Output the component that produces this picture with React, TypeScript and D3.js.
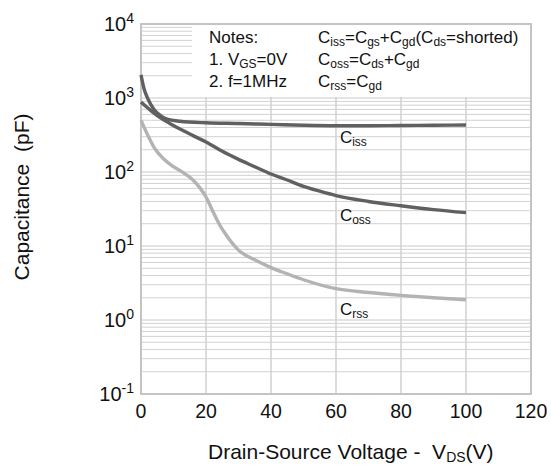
import React from "react";
import * as d3 from "d3";

const xTicks = [0, 20, 40, 60, 80, 100, 120];
const yExps = [-1, 0, 1, 2, 3, 4];

const cissData: [number, number][] = [
  [0, 2050], [1, 1300], [2, 1000], [4, 700], [6, 580], [8, 520], [12, 485],
  [20, 462], [30, 452], [40, 440], [50, 428], [60, 422], [70, 422], [80, 425],
  [90, 428], [100, 432],
];
const cossData: [number, number][] = [
  [0, 880], [2, 740], [4, 625], [6, 540], [9, 450], [12, 380], [16, 310],
  [20, 255], [25, 190], [30, 148], [35, 118], [40, 94], [45, 78], [50, 64],
  [55, 55], [60, 48], [70, 40], [80, 35], [90, 31], [100, 28.2],
];
const crssData: [number, number][] = [
  [0, 500], [2, 320], [4, 215], [7, 150], [10, 118], [13, 98], [16, 78],
  [18, 62], [20, 46], [22, 30], [24, 20], [26, 14.5], [28, 11], [30, 8.8],
  [35, 6.5], [40, 5.1], [45, 4.2], [50, 3.5], [60, 2.65], [70, 2.35],
  [80, 2.15], [90, 2.0], [100, 1.88],
];

const seriesNames = ["iss", "oss", "rss"];
const seriesColors = ["#606060", "#606060", "#b3b3b3"];
const labelPos: [number, number][] = [[61.2, 250], [61.2, 21.8], [61.2, 1.18]];

const notesLeft = ["Notes:", "1. V_GS_=0V", "2. f=1MHz"];
const notesRight = ["C_iss_=C_gs_+C_gd_(C_ds_=shorted)", "C_oss_=C_ds_+C_gd", "C_rss_=C_gd"];

const W = 551, H = 468;
const x = d3.scaleLinear().domain([0, 120]).range([141, 531]);
const y = d3.scaleLog().domain([0.1, 1e4]).range([394, 24]);

const FONT = "'Liberation Sans', Arial, sans-serif";

function Rich({ s, x0, y0, size, subSize }: { s: string; x0: number; y0: number; size: number; subSize: number }) {
  const parts = s.split("_");
  let cur = 0;
  const spans: React.ReactNode[] = [];
  parts.forEach((p, i) => {
    if (!p) return;
    const sub = i % 2 === 1;
    const target = sub ? 3 : 0;
    const dy = target - cur;
    cur = target;
    spans.push(
      <tspan key={i} dy={dy} fontSize={sub ? subSize : size}>
        {p}
      </tspan>
    );
  });
  return (
    <text x={x0} y={y0} fontFamily={FONT} fontSize={size} fill="#111">
      {spans}
    </text>
  );
}

export default function App() {
  const line = d3
    .line<[number, number]>()
    .x((d) => x(d[0]))
    .y((d) => y(d[1]))
    .curve(d3.curveMonotoneX);
  const series = [cissData, cossData, crssData];

  const minor: number[] = [];
  for (let e = -1; e < 4; e++) {
    for (let m = 2; m <= 9; m++) minor.push(m * Math.pow(10, e));
  }
  const major = yExps.map((e) => Math.pow(10, e));
  const [x0, x1] = x.range();
  const [yb, yt] = y.range();

  return (
    <svg width={W} height={H} style={{ position: "absolute", left: 0, top: 0, background: "#fff" }}>
      <rect x={0} y={0} width={W} height={H} fill="#fff" />
      {/* grid */}
      {minor.map((v, i) => (
        <line key={"mi" + i} x1={x0} x2={x1} y1={y(v)} y2={y(v)} stroke="#d2d2d2" strokeWidth={1} />
      ))}
      {major.map((v, i) => (
        <line key={"ma" + i} x1={x0} x2={x1} y1={y(v)} y2={y(v)} stroke="#cacaca" strokeWidth={1.2} />
      ))}
      {xTicks.map((v) => (
        <line key={"xv" + v} x1={x(v)} x2={x(v)} y1={yt} y2={yb} stroke="#d0d0d0" strokeWidth={1.5} />
      ))}
      {/* notes box */}
      <rect x={192} y={yt} width={x1 - 192} height={y(1000) - 1 - yt} fill="#fff" />
      <rect x={x0} y={yt} width={x1 - x0} height={yb - yt} fill="none" stroke="#c4c4c4" strokeWidth={2} />
      {/* curves */}
      {series.map((d, i) => (
        <path key={"s" + i} d={line(d) || ""} fill="none" stroke={seriesColors[i]} strokeWidth={3.4} strokeLinecap="butt" />
      ))}
      {series.map((_, i) => (
        <Rich key={"l" + i} s={"C_" + seriesNames[i]} x0={x(labelPos[i][0])} y0={y(labelPos[i][1])} size={17} subSize={12} />
      ))}
      {/* notes */}
      {notesLeft.map((s, i) => (
        <Rich key={"nl" + i} s={s} x0={209} y0={43 + i * 21.8} size={17} subSize={12} />
      ))}
      {notesRight.map((s, i) => (
        <Rich key={"nr" + i} s={s} x0={318} y0={43 + i * 21.8} size={17} subSize={12} />
      ))}
      {/* x tick labels */}
      {xTicks.map((v) => (
        <text key={"xt" + v} x={x(v)} y={418} textAnchor="middle" fontFamily={FONT} fontSize={19.5} fill="#111">
          {v}
        </text>
      ))}
      {/* y tick labels */}
      {yExps.map((e) => (
        <text key={"yt" + e} x={134} y={y(Math.pow(10, e)) + 7} textAnchor="end" fontFamily={FONT} fontSize={20} fill="#111">
          10
          <tspan dy={-8} fontSize={14}>{e}</tspan>
        </text>
      ))}
      {/* axis titles */}
      <text x={208} y={459} fontFamily={FONT} fontSize={21} fill="#111">
        {"Drain-Source Voltage -\u00A0 V"}
        <tspan dy={3} fontSize={14}>DS</tspan>
        <tspan dy={-3}>(V)</tspan>
      </text>
      <text
        transform={`translate(29,${197}) rotate(-90)`}
        textAnchor="middle"
        fontFamily={FONT}
        fontSize={21}
        fill="#111"
      >
        {"Capacitance\u00A0 (pF)"}
      </text>
    </svg>
  );
}
